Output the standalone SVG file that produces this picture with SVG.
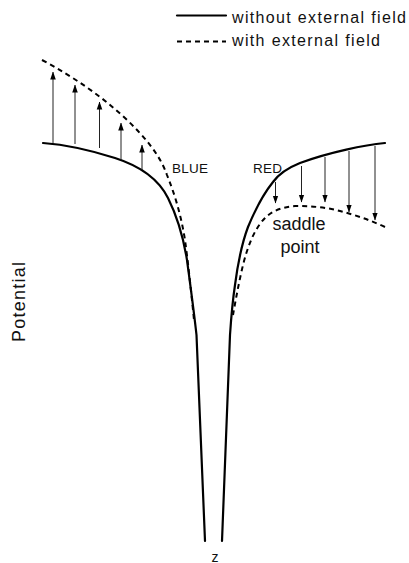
<svg xmlns="http://www.w3.org/2000/svg" width="409" height="563" viewBox="0 0 409 563">
<style>
text { font-family: "Liberation Sans", Arial, sans-serif; fill: #111; }
.solid { fill: none; stroke: #000; stroke-width: 2.2; stroke-linecap: round; stroke-linejoin: round; }
.dash { fill: none; stroke: #000; stroke-width: 2; stroke-dasharray: 5 4; }
.arr { stroke: #222; stroke-width: 1; fill: none; marker-end: url(#ah); }
</style>
<defs>
<marker id="ah" viewBox="0 0 8 8" refX="7.5" refY="4" markerWidth="8" markerHeight="8" markerUnits="userSpaceOnUse" orient="auto">
<path d="M0,1.2 L8,4 L0,6.8 Z" fill="#000"/>
</marker>
</defs>
<rect width="409" height="563" fill="#fff"/>
<g id="legend">
<line x1="177" y1="15.5" x2="226" y2="15.5" class="solid" stroke-linecap="butt"/>
<text x="232" y="23.3" font-size="16" textLength="174" lengthAdjust="spacing">without external field</text>
<line x1="177" y1="41.5" x2="226" y2="41.5" class="dash" stroke-dasharray="5 3.5"/>
<text x="232" y="45.5" font-size="16" textLength="148" lengthAdjust="spacing">with external field</text>
</g>
<g id="curves">
<path id="left-solid" class="solid" d="M43,143 C70,145 90,150 115,158 C140,166 158,178 168,198 C178,218 183,235 187,260 C191,290 194,312 196.5,335 C199,400 202,470 205,541"/>
<path id="right-solid" class="solid" d="M385,143 C365,145 330,152 300,163 C285,169 278,175 273,182 C265,192 255,210 248,227 C242,243 238,262 235,285 C232,305 231,320 230,335 C228,400 225,470 222,541"/>
<path id="left-dashed" class="dash" d="M42,60 C75,78 100,95 125,118 C145,137 160,155 167,175 C175,195 181,215 185,240 C188,262 191,290 194,320"/>
<path id="right-dashed" class="dash" d="M385,227 C370,220 355,215 340,211 C325,207 310,206 295,206 C282,207 272,211 265,218 C255,228 248,245 243,265 C239,282 236,298 233,315"/>
</g>
<g id="connectors">
<line class="arr" x1="53" y1="143" x2="53" y2="72"/>
<line class="arr" x1="75" y1="144" x2="75" y2="85"/>
<line class="arr" x1="99.5" y1="148" x2="99.5" y2="102"/>
<line class="arr" x1="121" y1="160" x2="121" y2="123"/>
<line class="arr" x1="142" y1="170" x2="142" y2="145"/>
<line class="arr" x1="275.5" y1="182" x2="275.5" y2="203"/>
<line class="arr" x1="301.5" y1="166" x2="301.5" y2="202"/>
<line class="arr" x1="325" y1="157" x2="325" y2="202"/>
<line class="arr" x1="349" y1="151" x2="349" y2="212"/>
<line class="arr" x1="375" y1="146" x2="375" y2="220"/>
</g>
<g id="labels">
<text x="172" y="173" font-size="13.5" textLength="36" lengthAdjust="spacing">BLUE</text>
<text x="253" y="173" font-size="13.5" textLength="29" lengthAdjust="spacing">RED</text>
<text x="299" y="230" font-size="18" text-anchor="middle">saddle</text>
<text x="300" y="253" font-size="18" text-anchor="middle">point</text>
<text x="215" y="561.5" font-size="14" text-anchor="middle">z</text>
<text transform="translate(24.5,302) rotate(-90)" font-size="18" text-anchor="middle" textLength="80" lengthAdjust="spacing">Potential</text>
</g>
</svg>
